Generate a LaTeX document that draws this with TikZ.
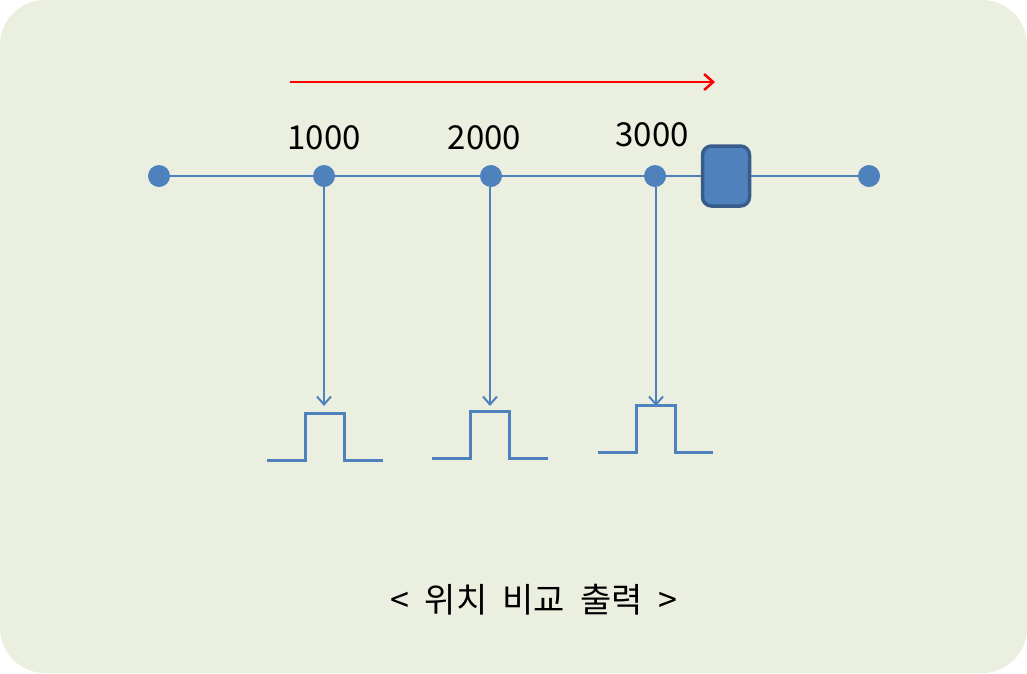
\documentclass[tikz,border=0pt]{standalone}
\usepackage{fontspec}
\setmainfont{Noto Sans CJK KR}
\usetikzlibrary{arrows.meta}
\definecolor{bgc}{HTML}{EBEFDF}
\definecolor{blu}{HTML}{4F81BD}
\definecolor{bdr}{HTML}{385D8A}
\tikzset{
  dot/.style={circle,fill=blu,inner sep=0pt,minimum size=22pt},
  lbl/.style={font=\fontsize{33}{35}\selectfont,text=black,inner sep=0pt},
  drop/.style={draw=blu,line width=2pt,-{Straight Barb[length=8pt,width=14pt,line width=2pt]}},
  pulse/.style={draw=blu,line width=3pt,line join=miter},
}
\begin{document}
\begin{tikzpicture}[x=1pt,y=-1pt]
\fill[white] (0,0) rectangle (1027,673);
\fill[bgc,rounded corners=45pt] (0,0) rectangle (1027,673);
\useasboundingbox (0,0) rectangle (1027,673);
% main line
\node[dot] (p0) at (159,176) {};
\node[dot] (p1) at (324,176) {};
\node[dot] (p2) at (491,176) {};
\node[dot] (p3) at (655,176) {};
\node[dot] (p4) at (869,176) {};
\node[draw=bdr,fill=blu,line width=3.5pt,rounded corners=9pt,minimum width=47pt,minimum height=60pt,inner sep=0pt] (box) at (726,176) {};
\draw[blu,line width=2pt] (p0) -- (p1) -- (p2) -- (p3) -- (box) -- (p4);
% labels
\node[lbl] (l1) at (324,138) {1000};
\node[lbl] (l2) at (484.5,138) {2000};
\node[lbl] (l3) at (652,135) {3000};
% red arrow
\coordinate (ra) at (290,82);
\coordinate (rb) at (715,82);
\draw[red,line width=2.5pt,-{Straight Barb[length=9pt,width=16pt,line width=2.5pt]}] (ra) -- (rb);
% pulse tips
\coordinate (t1) at (324,406);
\coordinate (t2) at (490,406);
\coordinate (t3) at (656,406);
\draw[drop] (p1) -- (t1);
\draw[drop] (p2.south -| t2) -- (t2);
\draw[drop] (p3.south -| t3) -- (t3);
% pulses
\draw[pulse] (267,460) -- (305,460) -- (305,413) -- (344,413) -- (344,460) -- (383,460);
\draw[pulse] (432,458) -- (470,458) -- (470,411) -- (509,411) -- (509,458) -- (548,458);
\draw[pulse] (598,452) -- (636,452) -- (636,405) -- (675,405) -- (675,452) -- (713,452);
% caption
\node[font=\fontsize{34}{36}\selectfont,inner sep=0pt] (cap) at (534,600) {<\ \ 위치\ \ 비교\ \ 출력\ \ >};
\end{tikzpicture}
\end{document}
